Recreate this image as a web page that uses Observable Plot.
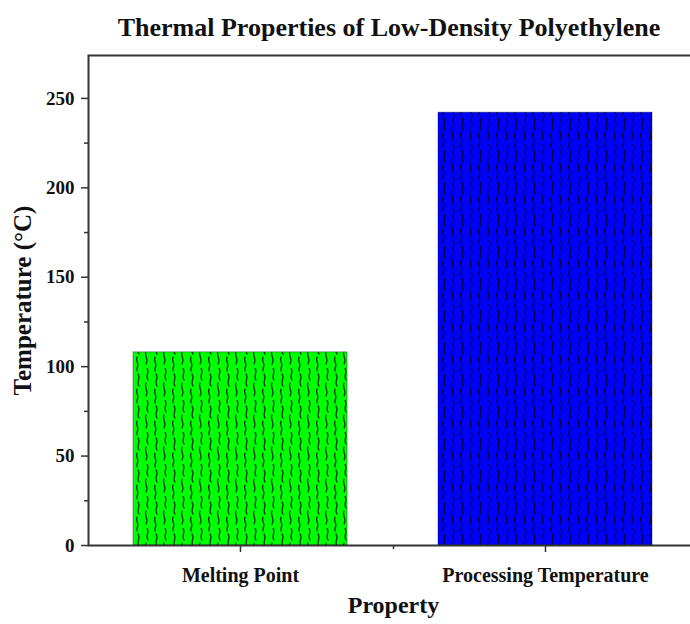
<!DOCTYPE html>
<html>
<head>
<meta charset="utf-8">
<script src="https://cdn.jsdelivr.net/npm/d3@7"></script>
<script src="https://cdn.jsdelivr.net/npm/@observablehq/plot@0.6"></script>
<style>
  html, body { margin: 0; padding: 0; background: #fff; width: 690px; height: 624px; overflow: hidden; }
  #title { height: 40px; line-height: 40px; padding-top: 8px; padding-left: 88px; text-align: center;
           font-family: "Liberation Serif", "DejaVu Serif", serif; font-weight: bold; font-size: 26px; color: #111; white-space: nowrap; }
  #chart svg { display: block; overflow: visible; max-width: none !important; width: 700px !important; height: 576px !important; }
</style>
</head>
<body>
<svg width="0" height="0" style="position:absolute">
  <defs>
    <pattern id="wavy" patternUnits="userSpaceOnUse" width="18" height="32">
      <path d="M3,0 c3,4 -2,8 1,12 M2,15 c-2,4 3,8 0,13 M12,6 c3,4 -2,8 1,12 M11,21 c-2,4 3,7 0,11 M11,0 c0,1 0,2 0,3"
            fill="none" stroke="#000" stroke-width="1.3" stroke-opacity="0.8" stroke-linecap="round"/>
    </pattern>
  </defs>
</svg>
<div id="title">Thermal Properties of Low-Density Polyethylene</div>
<div id="chart"></div>
<script>
const properties = ["Melting Point", "Processing Temperature"];
const temperatures = [108, 242];
const barColors = ["#00ff00", "#0000ff"];
const yMajorTicks = [0, 50, 100, 150, 200, 250];
const yMinorTicks = [25, 75, 125, 175, 225];
const yMax = 274;
const xLabel = "Property";
const yLabel = "Temperature (°C)";

const data = properties.map((p, i) => ({property: p, value: temperatures[i], color: barColors[i]}));

const font = '"Liberation Serif", "DejaVu Serif", serif';
const axisColor = "#333";

const plot = Plot.plot({
  width: 700,
  height: 576,
  marginTop: 7,
  marginBottom: 79,
  marginLeft: 88,
  marginRight: 2,
  style: {fontFamily: font, fontWeight: "bold", fontSize: "19px", color: "#111", background: "transparent"},
  x: {type: "band", domain: properties, paddingInner: 0.297, paddingOuter: 0.147, label: null},
  y: {domain: [0, yMax], label: null},
  color: {type: "identity"},
  marks: [
    Plot.barY(data, {x: "property", y: "value", fill: "color", stroke: "#000", strokeOpacity: 0.35, strokeWidth: 1}),
    Plot.barY(data, {x: "property", y: "value", fill: "url(#wavy)"}),
    Plot.frame({stroke: axisColor, strokeWidth: 2}),
    Plot.axisY({ticks: yMajorTicks, tickSize: 7, tickPadding: 7, tickFormat: d => d, stroke: axisColor, strokeWidth: 1.5, label: null, fontSize: 19}),
    Plot.axisY({ticks: yMinorTicks, tickSize: 4, tickFormat: () => "", stroke: axisColor, strokeWidth: 1.5, label: null}),
    Plot.axisX({tickSize: 7, tickPadding: 15, stroke: axisColor, strokeWidth: 1.5, label: null, fontSize: 20}),
    Plot.axisX({ticks: [properties[0]], tickSize: 4, tickFormat: () => "", dx: 153, stroke: axisColor, strokeWidth: 1.5, label: null}),
    Plot.text([xLabel], {frameAnchor: "bottom", text: d => d, dy: 67, fontSize: 24, fontWeight: "bold", fill: "#111"}),
    Plot.text([yLabel], {frameAnchor: "left", textAnchor: "middle", text: d => d, rotate: -90, dx: -66, fontSize: 25, fontWeight: "bold", fill: "#111"})
  ]
});
document.getElementById("chart").appendChild(plot);
</script>
</body>
</html>
